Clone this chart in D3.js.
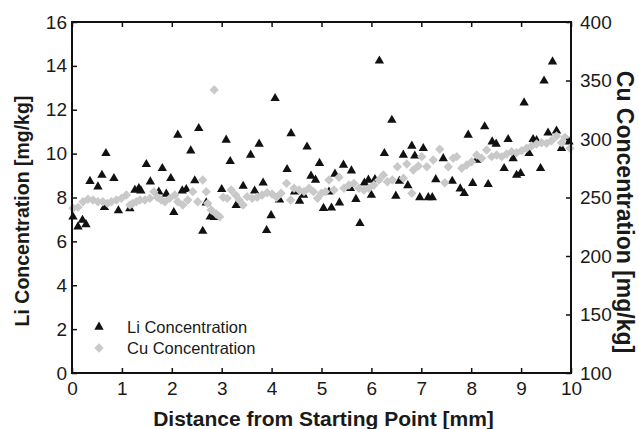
<!DOCTYPE html>
<html>
<head>
<meta charset="utf-8">
<script src="https://cdn.jsdelivr.net/npm/d3@7"></script>
<style>
  body { margin: 0; background: #fff; }
  svg { display: block; font-family: "Liberation Sans", Arial, Helvetica, sans-serif; }
</style>
</head>
<body>
<div id="chart"></div>
<script>
/////////////////////////////////////////
//////////////// DATA ///////////////////
/////////////////////////////////////////

//Li concentration [mg/kg] vs distance [mm] (left axis)
const liDist = [0.02,0.12,0.21,0.28,0.36,0.52,0.6,0.65,0.68,0.84,0.93,1.16,1.26,1.34,1.38,1.49,1.57,1.74,1.81,1.89,
  1.98,2.04,2.12,2.21,2.29,2.38,2.46,2.54,2.62,2.69,2.77,2.85,3.0,3.09,3.17,3.29,3.43,3.58,3.66,3.75,
  3.83,3.9,3.99,4.07,4.16,4.31,4.39,4.46,4.56,4.64,4.71,4.79,4.88,4.96,5.04,5.15,5.2,5.27,5.36,5.44,
  5.58,5.6,5.69,5.77,5.86,5.94,6.0,6.07,6.16,6.26,6.41,6.49,6.56,6.64,6.73,6.81,6.87,6.97,7.04,7.14,
  7.22,7.29,7.44,7.62,7.78,7.86,7.94,8.03,8.11,8.27,8.34,8.42,8.5,8.66,8.74,8.84,8.91,8.99,9.06,9.16,
  9.24,9.31,9.39,9.46,9.54,9.63,9.71,9.81,9.96];
const liConc = [7.12,6.67,6.97,6.77,8.74,8.49,9.02,7.55,10.01,8.87,7.4,7.5,8.34,8.42,8.31,9.51,8.72,8.26,9.33,8.16,
  8.87,7.32,10.85,8.31,8.37,10.13,8.77,11.15,6.47,7.76,7.12,7.1,8.37,10.62,9.65,7.64,8.52,9.94,8.3,10.44,
  8.67,6.5,7.18,12.52,7.89,9.28,10.92,8.26,7.84,8.11,10.31,8.98,8.8,9.56,7.51,8.26,7.53,9.07,7.76,9.48,
  8.42,9.22,7.92,6.82,8.67,8.8,8.11,8.83,14.23,10.01,11.53,8.07,8.75,9.94,8.55,10.35,9.9,8.0,10.24,8.0,
  8.0,8.82,9.78,8.75,8.4,8.19,10.85,8.65,9.71,11.23,8.6,10.54,10.44,9.33,10.65,9.78,9.02,9.1,12.32,10.01,
  10.65,10.6,9.33,13.32,10.95,14.19,11.04,10.24,10.54];

//Cu concentration [mg/kg] vs distance [mm] (right axis)
const cuDist = [0.02,0.12,0.22,0.32,0.42,0.52,0.62,0.71,0.79,0.89,0.99,1.09,1.16,1.22,1.29,1.36,1.46,1.56,1.64,1.71,
  1.79,1.86,1.96,2.06,2.12,2.22,2.32,2.42,2.52,2.62,2.69,2.72,2.79,2.85,2.89,2.96,3.03,3.11,3.19,3.28,
  3.35,3.43,3.51,3.61,3.71,3.81,3.91,4.01,4.1,4.19,4.3,4.38,4.45,4.55,4.65,4.75,4.84,4.92,5.0,5.08,
  5.15,5.25,5.35,5.45,5.55,5.65,5.75,5.85,5.95,6.05,6.15,6.24,6.32,6.42,6.52,6.64,6.71,6.81,6.84,6.94,
  7.01,7.11,7.24,7.37,7.47,7.54,7.64,7.71,7.81,7.91,8.01,8.11,8.21,8.31,8.41,8.51,8.61,8.71,8.81,8.91,
  9.01,9.11,9.21,9.31,9.41,9.51,9.61,9.71,9.81,9.88,9.98];
const cuConc = [240.8,241.6,246.4,248.5,247.9,246.4,246.4,245,246.4,247.9,249.3,252.1,243.6,245,246.4,247.9,247.9,249.3,255,250.2,
  247.9,246.4,249.3,252.1,246.4,243.6,247.9,255,246.4,265,255,245,239.3,342,235.9,233.6,250.2,249.3,256.4,252.1,
  247.9,243.6,250.7,249.3,250.2,252.1,254.1,253,250.2,253.6,262.1,247.9,257.9,256.4,255,257.9,255,249.3,253.6,255,
  265,256.4,267.3,257.9,260.7,262.1,257.9,256.4,257.9,260.7,265,269.2,263.5,265,276.3,266.4,278.6,253.6,273.5,276.9,
  284.9,276.3,282,291.2,262.6,276.3,283.5,284.9,275,277.8,280.6,286.3,283.5,290.6,284.9,286.3,284.9,287.2,289.1,288.3,
  290,292.1,294,295.7,296.8,296.3,298.5,302.6,296.8,301.4,292.1];

const xTicks = [0,1,2,3,4,5,6,7,8,9,10];
const liTicks = [0,2,4,6,8,10,12,14,16];
const cuTicks = [100,150,200,250,300,350,400];
const legendLabels = ["Li Concentration", "Cu Concentration"];

/////////////////////////////////////////
/////////////// SETTINGS ////////////////
/////////////////////////////////////////

const WIDTH = 639, HEIGHT = 429;
const LEFT = 72, RIGHT = 571, TOP = 22, BOTTOM = 373;

const COLORS = {
  li: "#111111",
  cu: "#c9c9c9",
  axis: "#111111",
  text: "#1a1a1a"
};

const svg = d3.select("#chart").append("svg")
  .attr("width", WIDTH)
  .attr("height", HEIGHT);

//scales
const x = d3.scaleLinear().domain([0, 10]).range([LEFT, RIGHT]);
const yLi = d3.scaleLinear().domain([0, 16]).range([BOTTOM, TOP]);
const yCu = d3.scaleLinear().domain([100, 400]).range([BOTTOM, TOP]);

const triangle = d3.symbol().type(d3.symbolTriangle).size(38);
const diamond = d3.symbol().type(d3.symbolSquare).size(44);

/////////////////////////////////////////
//////////////// MARKS //////////////////
/////////////////////////////////////////

svg.append("g").attr("id", "li-points")
  .selectAll("path")
  .data(d3.zip(liDist, liConc))
  .join("path")
    .attr("d", triangle)
    .attr("transform", d => `translate(${x(d[0])},${yLi(d[1])})`)
    .attr("fill", COLORS.li);

svg.append("g").attr("id", "cu-points")
  .selectAll("path")
  .data(d3.zip(cuDist, cuConc))
  .join("path")
    .attr("d", diamond)
    .attr("transform", d => `translate(${x(d[0])},${yCu(d[1])}) rotate(45)`)
    .attr("fill", COLORS.cu);

/////////////////////////////////////////
//////////////// AXES ///////////////////
/////////////////////////////////////////

function styleAxis(g) {
  g.select(".domain").remove();
  g.selectAll(".tick line").attr("stroke", COLORS.axis).attr("stroke-width", 1.5);
  g.selectAll(".tick text").attr("fill", COLORS.text).style("font-size", "19px")
    .style("font-family", "'Liberation Sans', Arial, sans-serif");
}

svg.append("g")
  .attr("transform", `translate(0,${BOTTOM})`)
  .call(d3.axisBottom(x).tickValues(xTicks).tickFormat(d3.format("d"))
    .tickSizeInner(-5).tickSizeOuter(0).tickPadding(9))
  .call(styleAxis);

svg.append("g")
  .attr("transform", `translate(0,${TOP})`)
  .call(d3.axisTop(x).tickValues(xTicks).tickFormat("")
    .tickSizeInner(-5).tickSizeOuter(0))
  .call(styleAxis);

svg.append("g")
  .attr("transform", `translate(${LEFT},0)`)
  .call(d3.axisLeft(yLi).tickValues(liTicks).tickFormat(d3.format("d"))
    .tickSizeInner(-5).tickSizeOuter(0).tickPadding(5))
  .call(styleAxis);

svg.append("g")
  .attr("transform", `translate(${RIGHT},0)`)
  .call(d3.axisRight(yCu).tickValues(cuTicks).tickFormat(d3.format("d"))
    .tickSizeInner(-5).tickSizeOuter(0).tickPadding(9))
  .call(styleAxis);

//frame
svg.append("rect")
  .attr("x", LEFT).attr("y", TOP)
  .attr("width", RIGHT - LEFT).attr("height", BOTTOM - TOP)
  .attr("fill", "none")
  .attr("stroke", COLORS.axis)
  .attr("stroke-width", 2);

/////////////////////////////////////////
/////////////// TITLES //////////////////
/////////////////////////////////////////

svg.append("text")
  .attr("x", (LEFT + RIGHT) / 2 + 2)
  .attr("y", 426)
  .attr("text-anchor", "middle")
  .attr("font-weight", "bold")
  .attr("font-size", "21px")
  .attr("fill", COLORS.text)
  .text("Distance from Starting Point [mm]");

svg.append("text")
  .attr("transform", `translate(29,211) rotate(-90)`)
  .attr("text-anchor", "middle")
  .attr("font-weight", "bold")
  .attr("font-size", "19.5px")
  .attr("fill", COLORS.text)
  .text("Li Concentration [mg/kg]");

svg.append("text")
  .attr("transform", `translate(617,212) rotate(90)`)
  .attr("text-anchor", "middle")
  .attr("font-weight", "bold")
  .attr("font-size", "23px")
  .attr("fill", COLORS.text)
  .text("Cu Concentration [mg/kg]");

/////////////////////////////////////////
/////////////// LEGEND //////////////////
/////////////////////////////////////////

const legend = svg.append("g").attr("id", "legend");

legend.append("path")
  .attr("d", triangle)
  .attr("transform", `translate(99,327)`)
  .attr("fill", COLORS.li);

legend.append("path")
  .attr("d", diamond)
  .attr("transform", `translate(99,348) rotate(45)`)
  .attr("fill", COLORS.cu);

legend.selectAll("text")
  .data(legendLabels)
  .join("text")
    .attr("x", 127)
    .attr("y", (d, i) => 333 + i * 21)
    .attr("font-size", "16.5px")
    .attr("fill", COLORS.text)
    .text(d => d);
</script>
</body>
</html>
